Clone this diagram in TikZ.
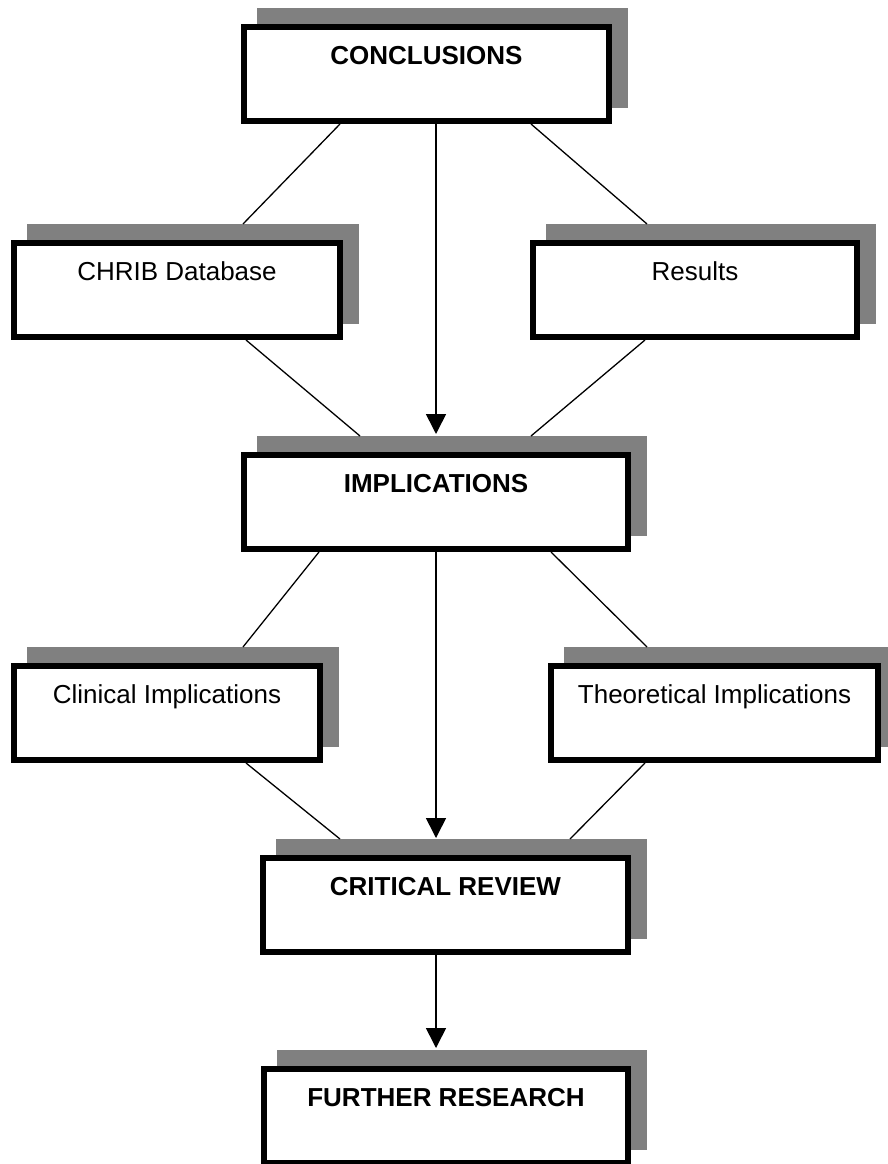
\documentclass[tikz,border=0pt]{standalone}
\usepackage{fontspec}
\setmainfont{Liberation Sans}
\usetikzlibrary{shadows,arrows.meta,calc}
\definecolor{shadowgray}{RGB}{128,128,128}
\begin{document}
\begin{tikzpicture}[x=1pt,y=-1pt,
  box/.style={draw=black, line width=6pt, fill=white, rectangle, inner sep=0pt,
    text height=37pt, text depth=57pt, anchor=north west,
    font=\fontsize{26}{30}\selectfont,
    copy shadow={shadow xshift=16pt, shadow yshift=16pt, fill=shadowgray, draw=shadowgray, line width=6pt}},
  mainbox/.style={box, font=\fontsize{26}{30}\selectfont\bfseries},
  link/.style={line width=1.3pt},
  flow/.style={line width=1.6pt, -{Triangle[width=20pt,length=20pt]}}]
\useasboundingbox (0,0) rectangle (887,1164);

\node[mainbox, minimum width=365pt] (conc) at (241,24) {CONCLUSIONS};
\node[box, minimum width=326pt] (chrib) at (11,240) {CHRIB Database};
\node[box, minimum width=324pt] (res) at (530,240) {Results};
\node[mainbox, minimum width=384pt] (impl) at (241,452) {IMPLICATIONS};
\node[box, minimum width=306pt] (clin) at (11,663) {Clinical Implications};
\node[box, minimum width=327pt] (theo) at (548,663) {Theoretical Implications};
\node[mainbox, minimum width=365pt] (crit) at (260,855) {CRITICAL REVIEW};
\node[mainbox, minimum width=364pt] (fur) at (261,1066) {FURTHER RESEARCH};

\draw[link] ($(conc.south west)+(99,0)$) -- ($(chrib.north west)+(232,-16)$);
\draw[link] ($(conc.south west)+(290,0)$) -- ($(res.north west)+(117,-16)$);
\draw[flow] (conc.south -| impl.north) -- ($(impl.north)+(0,-18)$);
\draw[link] ($(chrib.south west)+(235,0)$) -- ($(impl.north west)+(119,-16)$);
\draw[link] ($(res.south west)+(115,0)$) -- ($(impl.north west)+(290,-16)$);
\draw[link] ($(impl.south west)+(78,0)$) -- ($(clin.north west)+(232,-16)$);
\draw[link] ($(impl.south west)+(310,0)$) -- ($(theo.north west)+(99,-16)$);
\draw[flow] (impl.south) -- ($(impl.south |- crit.north)+(0,-17)$);
\draw[link] ($(clin.south west)+(235,0)$) -- ($(crit.north west)+(80,-16)$);
\draw[link] ($(theo.south west)+(97,0)$) -- ($(crit.north west)+(310,-16)$);
\draw[flow] (crit.south -| impl.south) -- ($(impl.south |- fur.north)+(0,-18)$);
\end{tikzpicture}
\end{document}
